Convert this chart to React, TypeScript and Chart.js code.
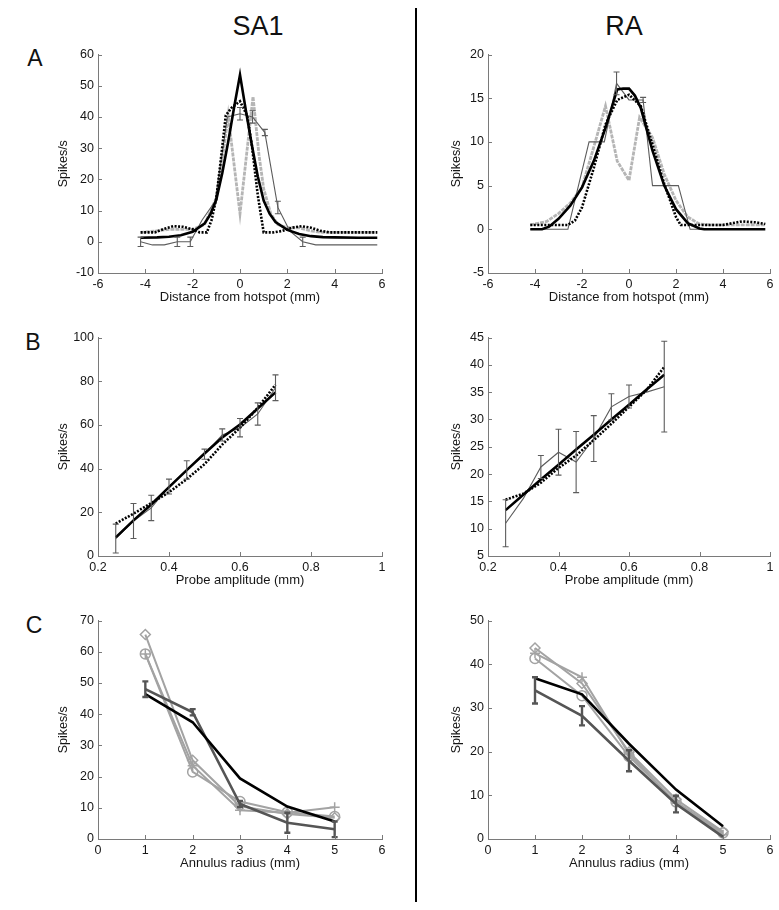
import React, { useEffect, useRef } from 'react';
import { Chart, registerables } from 'chart.js';
Chart.register(...registerables);

// ---------- tick values ----------
const A_X_TICKS = [-6, -4, -2, 0, 2, 4, 6];
const A_SA1_Y_TICKS = [-10, 0, 10, 20, 30, 40, 50, 60];
const A_RA_Y_TICKS = [-5, 0, 5, 10, 15, 20];
const B_X_TICKS = [0.2, 0.4, 0.6, 0.8, 1];
const B_SA1_Y_TICKS = [0, 20, 40, 60, 80, 100];
const B_RA_Y_TICKS = [5, 10, 15, 20, 25, 30, 35, 40, 45];
const C_X_TICKS = [0, 1, 2, 3, 4, 5, 6];
const C_SA1_Y_TICKS = [0, 10, 20, 30, 40, 50, 60, 70];
const C_RA_Y_TICKS = [0, 10, 20, 30, 40, 50];

// ---------- A: SA1 ----------
const A_SA1_FIT_X = [-4.2, -3.5, -3, -2.5, -2, -1.5, -1.25, -1, -0.75, -0.5, -0.25, 0, 0.25, 0.5, 0.75, 1, 1.25, 1.5, 2, 2.5, 3, 3.5, 4, 5, 5.8];
const A_SA1_FIT_Y = [1.3, 1.4, 1.6, 2.1, 3.2, 5.8, 8.8, 13.5, 22, 32, 43, 53.5, 42, 31, 21, 13.2, 9, 6.3, 3.8, 2.5, 1.8, 1.5, 1.4, 1.3, 1.3];
const A_SA1_DOT_X = [-4.2, -3.6, -3.2, -2.8, -2.4, -2.0, -1.7, -1.4, -1.2, -1.0, -0.8, -0.6, -0.35, 0, 0.3, 0.5, 0.75, 1.0, 1.4, 1.8, 2.2, 2.6, 3.0, 3.4, 3.8, 4.5, 5.8];
const A_SA1_DOT_Y = [3, 3, 4.2, 5, 4.8, 4, 3, 3, 7, 14, 27, 40.5, 43, 45, 40.5, 31, 15, 3, 3, 3.5, 4.5, 5, 4.5, 3.5, 3, 3, 3];
const A_SA1_GRAY_X = [-4.2, -3.5, -3, -2.5, -2, -1.5, -1, -0.75, -0.5, 0, 0.55, 0.8, 1, 1.3, 1.6, 2, 2.5, 3, 3.5, 4, 5, 5.8];
const A_SA1_GRAY_Y = [3, 3.5, 4, 4, 4, 5.5, 14, 26, 40.5, 9, 46.5, 28, 17, 9, 5.5, 4.5, 4.5, 3.5, 3, 3, 3, 3];
const A_SA1_DATA_X = [-4.2, -3.7, -3.2, -2.65, -2.1, -1.6, -1.05, -0.53, 0, 0.53, 1.05, 1.6, 2.1, 2.65, 3.2, 3.7, 4.2, 4.7, 5.3, 5.8];
const A_SA1_DATA_Y = [0, -1, -1, 0, 0, 7, 13, 40, 41, 40, 35, 11, 3.5, 0, -1, -1, -1, -1, -1, -1];
const A_SA1_DATA_ERR = [1.5, null, null, 1.5, 1.5, null, null, null, 2, 2, 1, 2, null, 1.5, null, null, null, null, null, null];

// ---------- A: RA ----------
const A_RA_FIT_X = [-4.2, -3.7, -3.4, -3, -2.5, -2, -1.5, -1, -0.5, -0.25, 0, 0.25, 0.5, 1, 1.5, 2, 2.5, 3, 3.2, 4, 5, 5.8];
const A_RA_FIT_Y = [0, 0, 0.3, 1.2, 2.7, 4.8, 7.8, 11.6, 16, 16.1, 16.1, 15.3, 13.9, 9, 5, 2.3, 0.7, 0.1, 0, 0, 0, 0];
const A_RA_DOT_X = [-4.2, -3, -2.6, -2.3, -2, -1.5, -1, -0.5, 0, 0.5, 1, 1.5, 2, 2.2, 3, 4, 4.8, 5.4, 5.8];
const A_RA_DOT_Y = [0.5, 0.5, 0.5, 1, 2.5, 7, 12, 14.8, 15.4, 14.1, 9.7, 5.2, 1.4, 0.5, 0.5, 0.5, 0.9, 0.8, 0.6];
const A_RA_GRAY_X = [-4.2, -3.5, -3, -2.5, -2, -1.5, -1, -0.5, 0, 0.45, 1, 1.5, 2, 2.5, 3, 3.5, 4, 5, 5.8];
const A_RA_GRAY_Y = [0.5, 0.9, 1.8, 3, 4.8, 9.4, 14.1, 7.8, 5.6, 12.8, 10.5, 6.3, 3.3, 1.4, 0.6, 0.5, 0.5, 0.5, 0.5];
const A_RA_DATA_X = [-4.2, -2.6, -1.7, -1.05, -0.53, 0, 0.6, 1.0, 2.1, 2.6, 3.2];
const A_RA_DATA_Y = [0, 0, 10, 10, 16.7, 14.8, 14.8, 5, 5, 0, 0];
const A_RA_DATA_ERR = [null, null, null, null, 1.3, null, 0.3, null, null, null, null];

// ---------- B: SA1 ----------
const B_X = [0.25, 0.3, 0.35, 0.4, 0.45, 0.5, 0.55, 0.6, 0.65, 0.7];
const B_SA1_FIT = [8.5, 16.3, 23.6, 31.5, 39.3, 46.9, 54.2, 60.2, 67.5, 74.9];
const B_SA1_DOT = [14.8, 19.4, 24.2, 29.2, 35.2, 42, 51, 58.7, 67.8, 78.4];
const B_SA1_DATA = [8, 16, 22, 31.8, 39.4, 46.6, 55.4, 58.7, 65, 77];
const B_SA1_ERR = [6.6, 8, 5.8, 3.4, 4.2, 2.3, 2.8, 4.2, 5.1, 5.9];

// ---------- B: RA ----------
const B_RA_FIT = [13.4, 16.2, 19, 21.7, 24.5, 27.2, 30, 32.7, 35.5, 38.2];
const B_RA_DOT = [15.3, 16.4, 18.4, 21.1, 23.4, 26.2, 29.2, 32.3, 35.4, 39.6];
const B_RA_DATA = [11, 15.5, 21.3, 24, 22.2, 26.5, 32.3, 34.2, 35, 36];
const B_RA_ERR = [4.3, null, 2.1, 4.2, 5.6, 4.2, 2.4, 2.1, null, 8.3];

// ---------- C ----------
const C_X = [1, 2, 3, 4, 5];
const C_SA1_FIT = [46.4, 37.4, 19.4, 10.4, 5.6];
const C_SA1_MEAN = [48, 40.6, 11.2, 5.2, 3.1];
const C_SA1_ERR = [2.5, 1, 1, 3.2, 2.5];
const C_SA1_DIAMOND = [65.5, 25.2, 10.5, 8, 6.8];
const C_SA1_CIRCLE = [59.3, 21.5, 12, 8.6, 7.2];
const C_SA1_PLUS = [59.3, 23.5, 9.2, 8.4, 10.2];

const C_RA_FIT = [36.8, 33.1, 21.8, 11.3, 2.9];
const C_RA_MEAN = [34, 28.2, 17.9, 8, 0.5];
const C_RA_ERR = [3, 2.2, 2.4, 1.9, null];
const C_RA_DIAMOND = [43.7, 35.6, 19.9, 9.1, 1.7];
const C_RA_CIRCLE = [41.3, 32.8, 18.9, 8.5, 1.4];
const C_RA_PLUS = [42.5, 37, 19.5, 8.2, 1];

// ---------- styling ----------
const AXIS = '#7a7a7a';
const TXT = '#161616';
const FONT = "'Liberation Sans', Arial, Helvetica, sans-serif";
const BLACK = '#000000';
const DARK = '#555555';
const DATA = '#5c5c5c';
const LIGHT = '#a3a3a3';
const LIGHTER = '#b5b5b5';

Chart.defaults.font.family = FONT;

const errorBarPlugin = {
  id: 'errbars',
  afterDatasetsDraw(chart: any) {
    const ctx = chart.ctx;
    const xs = chart.scales.x;
    const ys = chart.scales.y;
    chart.data.datasets.forEach((ds: any) => {
      const errs = ds.errors;
      if (!errs) return;
      ctx.save();
      ctx.strokeStyle = ds.borderColor;
      ctx.lineWidth = ds.errWidth || 1;
      const c = ds.capHalf || 3;
      ds.data.forEach((p: any, j: number) => {
        const e = errs[j];
        if (e == null) return;
        const px = xs.getPixelForValue(p.x);
        const y1 = ys.getPixelForValue(p.y - e);
        const y2 = ys.getPixelForValue(p.y + e);
        ctx.beginPath();
        ctx.moveTo(px, y1);
        ctx.lineTo(px, y2);
        ctx.moveTo(px - c, y1);
        ctx.lineTo(px + c, y1);
        ctx.moveTo(px - c, y2);
        ctx.lineTo(px + c, y2);
        ctx.stroke();
      });
      ctx.restore();
    });
  },
};

const inwardTicksPlugin = {
  id: 'inticks',
  afterDraw(chart: any) {
    const { ctx, chartArea } = chart;
    const xs = chart.scales.x;
    const ys = chart.scales.y;
    ctx.save();
    ctx.strokeStyle = AXIS;
    ctx.lineWidth = 1;
    xs.ticks.forEach((t: any) => {
      const px = Math.round(xs.getPixelForValue(t.value)) + 0.5;
      ctx.beginPath();
      ctx.moveTo(px, chartArea.bottom);
      ctx.lineTo(px, chartArea.bottom - 4);
      ctx.stroke();
    });
    ys.ticks.forEach((t: any) => {
      const py = Math.round(ys.getPixelForValue(t.value)) + 0.5;
      ctx.beginPath();
      ctx.moveTo(chartArea.left, py);
      ctx.lineTo(chartArea.left + 4, py);
      ctx.stroke();
    });
    ctx.restore();
  },
};

function line(xs: number[], ys: number[], o: any) {
  return {
    data: xs.map((x, i) => ({ x, y: ys[i] })),
    borderColor: o.color,
    backgroundColor: o.color,
    borderWidth: o.width,
    borderDash: o.dash || [],
    pointRadius: o.marker ? (o.radius || 5) : 0,
    pointStyle: o.marker || 'circle',
    pointBorderColor: o.color,
    pointBackgroundColor: 'rgba(0,0,0,0)',
    pointBorderWidth: o.markerWidth || 1.5,
    tension: 0,
    errors: o.errors,
    errWidth: o.errWidth,
    capHalf: o.capHalf,
  };
}

function fmt(v: number) {
  return String(+Number(v).toFixed(2));
}

type PanelProps = {
  left: number; top: number; w: number; h: number; yw: number; padRight: number;
  xMin: number; xMax: number; yMin: number; yMax: number;
  xTicks: number[]; yTicks: number[]; xTitle: string; datasets: any[];
};

function Panel(p: PanelProps) {
  const ref = useRef<HTMLCanvasElement>(null);
  useEffect(() => {
    const tickFont = { size: 12.5, family: FONT };
    const titleFont = { size: 13, family: FONT };
    const chart = new Chart(ref.current as HTMLCanvasElement, {
      type: 'line',
      data: { datasets: p.datasets },
      plugins: [errorBarPlugin, inwardTicksPlugin],
      options: {
        animation: false,
        responsive: false,
        maintainAspectRatio: false,
        layout: { padding: { top: 10, right: p.padRight, left: 0, bottom: 0 } },
        plugins: { legend: { display: false }, tooltip: { enabled: false } },
        scales: {
          x: {
            type: 'linear', min: p.xMin, max: p.xMax,
            afterBuildTicks: (s: any) => { s.ticks = p.xTicks.map((v) => ({ value: v })); },
            afterFit: (s: any) => { s.height = 36; },
            grid: { display: false, drawTicks: false },
            border: { display: true, color: AXIS, width: 1 },
            ticks: { padding: 4, color: TXT, font: tickFont, maxRotation: 0, autoSkip: false, callback: (v: any) => fmt(v) },
            title: { display: true, text: p.xTitle, color: TXT, font: titleFont, padding: { top: 4, bottom: 4 } },
          },
          y: {
            type: 'linear', min: p.yMin, max: p.yMax,
            afterBuildTicks: (s: any) => { s.ticks = p.yTicks.map((v) => ({ value: v })); },
            afterFit: (s: any) => { s.width = p.yw; },
            grid: { display: false, drawTicks: false },
            border: { display: true, color: AXIS, width: 1 },
            ticks: { padding: 4, color: TXT, font: tickFont, autoSkip: false, callback: (v: any) => fmt(v) },
            title: { display: true, text: 'Spikes/s', color: TXT, font: tickFont, padding: { top: 4, bottom: 4 } },
          },
        },
      } as any,
    });
    return () => chart.destroy();
  }, []);
  return (
    <canvas
      ref={ref}
      width={p.w}
      height={p.h}
      style={{ position: 'absolute', left: p.left, top: p.top, width: p.w, height: p.h }}
    />
  );
}

const SA1_GEOM = { left: 52, w: 348, yw: 46, padRight: 18 };
const RA_GEOM = { left: 445, w: 334, yw: 43, padRight: 9 };
const ROW_TOPS = [43, 326, 609];
const H = 266;

function aSets(fx: number[], fy: number[], dx: number[], dy: number[], gx: number[], gy: number[], ex: number[], ey: number[], ee: any[]) {
  return [
    line(fx, fy, { color: BLACK, width: 2.6 }),
    line(dx, dy, { color: BLACK, width: 2.6, dash: [2, 1.5] }),
    line(ex, ey, { color: DATA, width: 1.1, errors: ee, errWidth: 1.1, capHalf: 3 }),
    line(gx, gy, { color: LIGHTER, width: 2.8, dash: [4, 1] }),
  ];
}

function bSets(fit: number[], dot: number[], data: number[], err: any[]) {
  return [
    line(B_X, fit, { color: BLACK, width: 2.6 }),
    line(B_X, dot, { color: BLACK, width: 2.6, dash: [2, 1.5] }),
    line(B_X, data, { color: DATA, width: 1.1, errors: err, errWidth: 1.1, capHalf: 3 }),
  ];
}

function cSets(fit: number[], mean: number[], err: any[], dia: number[], cir: number[], plus: number[]) {
  return [
    line(C_X, fit, { color: BLACK, width: 2.6 }),
    line(C_X, mean, { color: DARK, width: 2.6, errors: err, errWidth: 2.4, capHalf: 3 }),
    line(C_X, dia, { color: LIGHT, width: 2, marker: 'rectRot', radius: 5 }),
    line(C_X, cir, { color: LIGHT, width: 2, marker: 'circle', radius: 5 }),
    line(C_X, plus, { color: LIGHT, width: 2, marker: 'cross', radius: 5 }),
  ];
}

const textStyle: React.CSSProperties = {
  position: 'absolute', fontFamily: FONT, color: '#111', lineHeight: 1,
  transform: 'translate(-50%, -50%)', whiteSpace: 'nowrap',
};

export default function App() {
  return (
    <div style={{ position: 'absolute', left: 0, top: 0, width: 779, height: 910, background: '#fff' }}>
      <div style={{ ...textStyle, left: 258, top: 26, fontSize: 27 }}>SA1</div>
      <div style={{ ...textStyle, left: 624, top: 26, fontSize: 27 }}>RA</div>
      <div style={{ ...textStyle, left: 35, top: 58, fontSize: 23 }}>A</div>
      <div style={{ ...textStyle, left: 33, top: 342, fontSize: 23 }}>B</div>
      <div style={{ ...textStyle, left: 34, top: 625, fontSize: 23 }}>C</div>
      <div style={{ position: 'absolute', left: 415, top: 8, width: 2, height: 894, background: '#000' }} />

      <Panel {...SA1_GEOM} top={ROW_TOPS[0]} h={H} xMin={-6} xMax={6} yMin={-10} yMax={60}
        xTicks={A_X_TICKS} yTicks={A_SA1_Y_TICKS} xTitle="Distance from hotspot (mm)"
        datasets={aSets(A_SA1_FIT_X, A_SA1_FIT_Y, A_SA1_DOT_X, A_SA1_DOT_Y, A_SA1_GRAY_X, A_SA1_GRAY_Y, A_SA1_DATA_X, A_SA1_DATA_Y, A_SA1_DATA_ERR)} />
      <Panel {...RA_GEOM} top={ROW_TOPS[0]} h={H} xMin={-6} xMax={6} yMin={-5} yMax={20}
        xTicks={A_X_TICKS} yTicks={A_RA_Y_TICKS} xTitle="Distance from hotspot (mm)"
        datasets={aSets(A_RA_FIT_X, A_RA_FIT_Y, A_RA_DOT_X, A_RA_DOT_Y, A_RA_GRAY_X, A_RA_GRAY_Y, A_RA_DATA_X, A_RA_DATA_Y, A_RA_DATA_ERR)} />

      <Panel {...SA1_GEOM} top={ROW_TOPS[1]} h={H} xMin={0.2} xMax={1} yMin={0} yMax={100}
        xTicks={B_X_TICKS} yTicks={B_SA1_Y_TICKS} xTitle="Probe amplitude (mm)"
        datasets={bSets(B_SA1_FIT, B_SA1_DOT, B_SA1_DATA, B_SA1_ERR)} />
      <Panel {...RA_GEOM} top={ROW_TOPS[1]} h={H} xMin={0.2} xMax={1} yMin={5} yMax={45}
        xTicks={B_X_TICKS} yTicks={B_RA_Y_TICKS} xTitle="Probe amplitude (mm)"
        datasets={bSets(B_RA_FIT, B_RA_DOT, B_RA_DATA, B_RA_ERR)} />

      <Panel {...SA1_GEOM} top={ROW_TOPS[2]} h={H} xMin={0} xMax={6} yMin={0} yMax={70}
        xTicks={C_X_TICKS} yTicks={C_SA1_Y_TICKS} xTitle="Annulus radius (mm)"
        datasets={cSets(C_SA1_FIT, C_SA1_MEAN, C_SA1_ERR, C_SA1_DIAMOND, C_SA1_CIRCLE, C_SA1_PLUS)} />
      <Panel {...RA_GEOM} top={ROW_TOPS[2]} h={H} xMin={0} xMax={6} yMin={0} yMax={50}
        xTicks={C_X_TICKS} yTicks={C_RA_Y_TICKS} xTitle="Annulus radius (mm)"
        datasets={cSets(C_RA_FIT, C_RA_MEAN, C_RA_ERR, C_RA_DIAMOND, C_RA_CIRCLE, C_RA_PLUS)} />
    </div>
  );
}
